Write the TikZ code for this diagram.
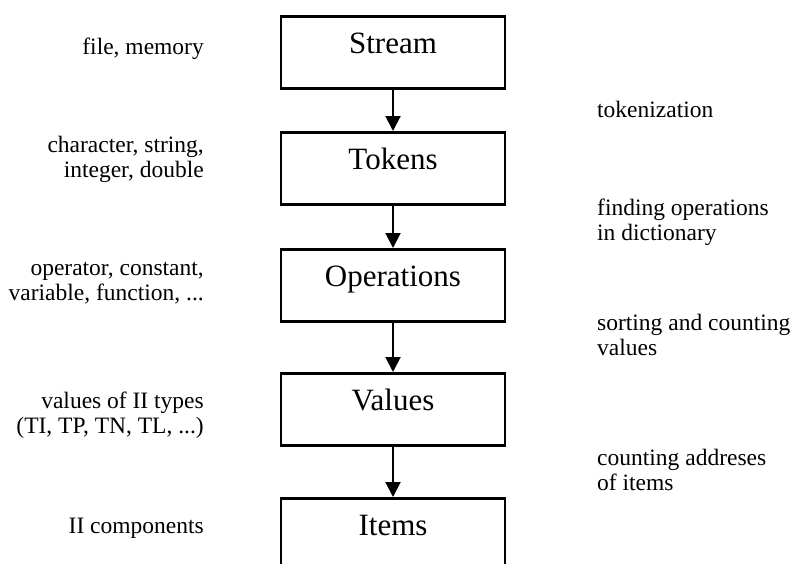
\documentclass[tikz,border=0pt]{standalone}
\usepackage{fontspec}
\setmainfont{Liberation Serif}
\usetikzlibrary{arrows.meta}
\tikzset{
  x=1pt, y=-1pt,
  stage/.style={draw, line width=2.5pt, minimum width=224pt, inner xsep=0pt,
    inner ysep=0pt, text height=37pt, text depth=35pt, anchor=north,
    font=\fontsize{31}{36}\selectfont},
  flow/.style={line width=2pt, -{Triangle[width=15pt,length=15pt]}},
  note/.style={inner sep=0pt, font=\fontsize{23.5}{25}\selectfont},
  % the base anchor of a two-line note sits on its last line
  leftnote/.style={note, align=right, anchor=base east},
  rightnote/.style={note, align=left, anchor=base west}
}
\begin{document}
\begin{tikzpicture}
\useasboundingbox (0,0) rectangle (792,563);
\clip (0,0) rectangle (792,563);

% processing stages
\node[stage] (stream) at (393,15)  {Stream};
\node[stage] (tokens) at (393,131) {Tokens};
\node[stage] (ops)    at (393,248) {Operations};
\node[stage] (values) at (393,372) {Values};
\node[stage] (items)  at (393,497) {Items};

\draw[flow] (stream) -- (tokens);
\draw[flow] (tokens) -- (ops);
\draw[flow] (ops) -- (values);
\draw[flow] (values) -- (items);

% what each stage holds
\node[leftnote] (l1) at (204,54)  {file, memory};
\node[leftnote] (l2) at (204,177) {character, string,\\integer, double};
\node[leftnote] (l3) at (204,300) {operator, constant,\\variable, function, ...};
\node[leftnote] (l4) at (204,433) {values of II types\\(TI, TP, TN, TL, ...)};
\node[leftnote] (l5) at (204,533) {II components};

% what each transition does
\node[rightnote] (r1) at (597,117) {tokenization};
\node[rightnote] (r2) at (597,240) {finding operations\\in dictionary};
\node[rightnote] (r3) at (597,355) {sorting and counting\\values};
\node[rightnote] (r4) at (597,490) {counting addreses\\of items};
\end{tikzpicture}
\end{document}
